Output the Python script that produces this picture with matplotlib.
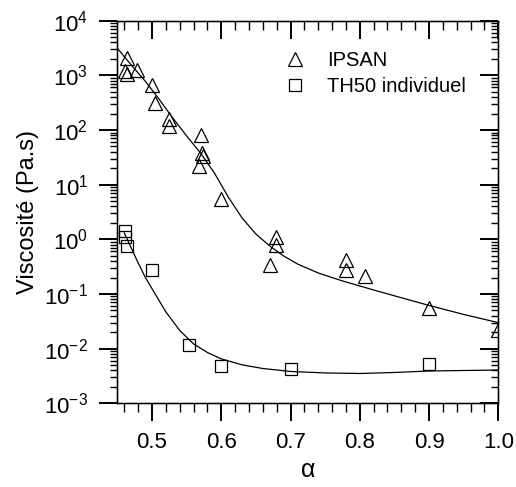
import matplotlib
matplotlib.use("Agg")
import matplotlib.pyplot as plt
from matplotlib.ticker import LogLocator, MultipleLocator, LogFormatterMathtext, NullFormatter

plt.rcParams['font.family'] = ['Liberation Sans', 'DejaVu Sans']
plt.rcParams['mathtext.fontset'] = 'custom'
plt.rcParams['mathtext.rm'] = 'Liberation Sans'

# IPSAN measurements
ipsan_x = [0.464, 0.461, 0.464, 0.479, 0.500, 0.505, 0.524, 0.524, 0.571, 0.572,
           0.573, 0.568, 0.600, 0.679, 0.679, 0.670, 0.780, 0.780, 0.808, 0.900, 1.000]
ipsan_y = [2050, 1180, 1070, 1230, 655, 316, 159, 116, 82, 38,
           34, 21.6, 5.5, 1.09, 0.80, 0.34, 0.41, 0.28, 0.21, 0.055, 0.022]

# TH50 individuel measurements
th50_x = [0.461, 0.461, 0.464, 0.500, 0.553, 0.600, 0.700, 0.900]
th50_y = [1.44, 1.12, 0.77, 0.27, 0.0118, 0.0049, 0.00425, 0.0053]

# fitted curves
fit1_x = [0.45, 0.47, 0.49, 0.51, 0.53, 0.55, 0.57, 0.59, 0.61, 0.63, 0.65,
          0.67, 0.69, 0.71, 0.74, 0.775, 0.825, 0.90, 0.95, 1.00]
fit1_y = [3126, 1549, 789, 370, 166, 77.8, 38.0, 16.4, 5.96, 2.46, 1.25,
          0.755, 0.496, 0.354, 0.242, 0.173, 0.1135, 0.0617, 0.0422, 0.0299]

fit2_x = [0.46, 0.47, 0.48, 0.49, 0.50, 0.52, 0.54, 0.56, 0.58, 0.60, 0.63,
          0.66, 0.70, 0.75, 0.80, 0.85, 0.90, 0.95, 1.00]
fit2_y = [1.31, 0.695, 0.370, 0.205, 0.125, 0.0470, 0.0215, 0.0122, 0.00850, 0.00650,
          0.00505, 0.00433, 0.00382, 0.00359, 0.00351, 0.00366, 0.00390, 0.00398, 0.00406]

fig = plt.figure(figsize=(5.16, 4.87), dpi=100)
ax = fig.add_axes([0.2275, 0.1719, 0.7382, 0.7856])

ax.plot(fit1_x, fit1_y, color='black', lw=0.9)
ax.plot(fit2_x, fit2_y, color='black', lw=0.9)
ax.plot(ipsan_x, ipsan_y, ls='none', marker='^', ms=10, mfc='none', mec='black',
        mew=0.9, label='IPSAN')
ax.plot(th50_x, th50_y, ls='none', marker='s', ms=9, mfc='none', mec='black',
        mew=0.9, label='TH50 individuel')

ax.set_yscale('log')
ax.set_xlim(0.45, 1.0)
ax.set_ylim(1e-3, 1e4)
ax.xaxis.set_major_locator(MultipleLocator(0.1))
ax.xaxis.set_minor_locator(MultipleLocator(0.02))
ax.xaxis.set_major_formatter(plt.FormatStrFormatter('%.1f'))
ax.yaxis.set_major_locator(LogLocator(base=10, numticks=20))
ax.yaxis.set_minor_locator(LogLocator(base=10, subs=range(2, 10), numticks=20))
ax.yaxis.set_major_formatter(LogFormatterMathtext())
ax.yaxis.set_minor_formatter(NullFormatter())

ax.tick_params(which='major', direction='out', length=13, width=1.4, labelsize=16, pad=8)
ax.tick_params(axis='x', which='minor', direction='out', length=6.5, width=1.0)
ax.tick_params(axis='y', which='minor', direction='out', length=5, width=1.0)
for s in ax.spines.values():
    s.set_linewidth(1.0)

# mirrored ticks on top and right, pointing into the plot
tx = ax.twiny()
tx.set_xlim(ax.get_xlim())
tx.xaxis.set_major_locator(MultipleLocator(0.1))
tx.xaxis.set_minor_locator(MultipleLocator(0.02))
tx.tick_params(which='major', direction='in', length=13, width=1.4, labeltop=False)
tx.tick_params(which='minor', direction='in', length=6.5, width=1.0)
ty = ax.twinx()
ty.set_yscale('log')
ty.set_ylim(ax.get_ylim())
ty.yaxis.set_major_locator(LogLocator(base=10, numticks=20))
ty.yaxis.set_minor_locator(LogLocator(base=10, subs=range(2, 10), numticks=20))
ty.tick_params(which='major', direction='in', length=13, width=1.4, labelright=False)
ty.tick_params(which='minor', direction='in', length=5, width=1.0, labelright=False)

ax.set_xlabel('α', fontsize=18, labelpad=3)
ax.set_ylabel('Viscosité (Pa.s)', fontsize=17, labelpad=4)

ax.legend(loc='upper left', bbox_to_anchor=(0.387, 0.968), frameon=False, fontsize=14.5,
          handlelength=1.2, handletextpad=1.0, labelspacing=0.35, numpoints=1)

fig.savefig('out.png', dpi=100)
